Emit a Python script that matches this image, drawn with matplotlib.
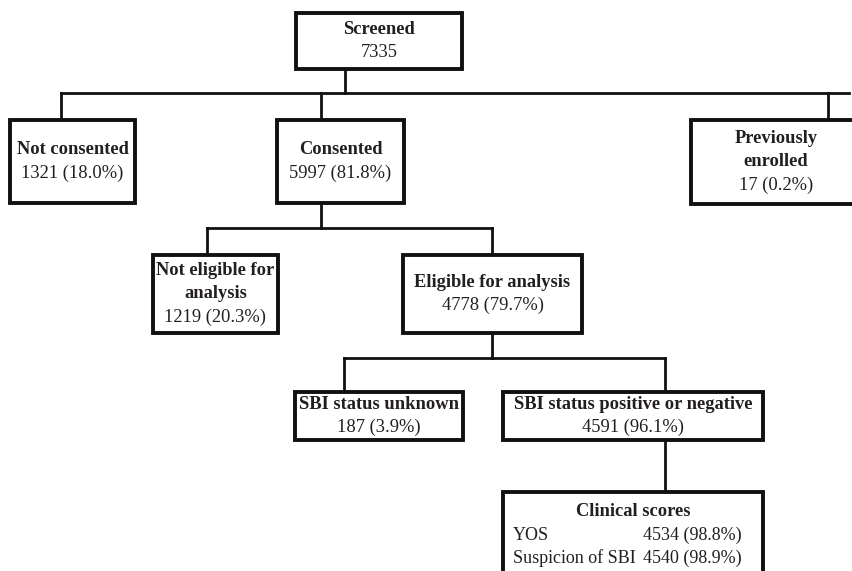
import matplotlib
matplotlib.use("Agg")
import matplotlib.pyplot as plt
from matplotlib.patches import Rectangle

# ---- data ----
node_titles = ["Screened", "Not consented", "Consented", "Previously\nenrolled",
               "Not eligible for\nanalysis", "Eligible for analysis",
               "SBI status unknown", "SBI status positive or negative"]
node_counts = [7335, 1321, 5997, 17, 1219, 4778, 187, 4591]
node_pcts = [None, "18.0%", "81.8%", "0.2%", "20.3%", "79.7%", "3.9%", "96.1%"]

score_title = "Clinical scores"
score_names = ["YOS", "Suspicion of SBI"]
score_counts = [4534, 4540]
score_pcts = ["98.8%", "98.9%"]

# ---- layout (pixel coordinates) ----
boxes = [(296, 13, 462, 69), (10, 120, 135, 203), (277, 120, 404, 203),
         (691, 120, 875, 204), (153, 255, 278, 333), (403, 255, 582, 333),
         (295, 392, 463, 440), (503, 392, 763, 440)]
text_x = [379, 72.5, 340.5, 776, 215.5, 492.5, 379, 633]
clin_box = (503, 492, 763, 620)

connectors = [
    ((345, 345), (69, 93)), ((61, 849), (93, 93)),
    ((61, 61), (93, 120)), ((321, 321), (93, 120)), ((828, 828), (93, 120)),
    ((321, 321), (203, 228)), ((207, 492), (228, 228)),
    ((207, 207), (228, 255)), ((492, 492), (228, 255)),
    ((492, 492), (333, 358)), ((344, 665), (358, 358)),
    ((344, 344), (358, 392)), ((665, 665), (358, 392)),
    ((665, 665), (440, 492)),
]

TXT = "#231f20"
FS = 13.3
LINE = 23.5
plt.rcParams['font.family'] = ['Liberation Serif', 'DejaVu Serif']

fig = plt.figure(figsize=(8.52, 5.71), dpi=100)
ax = fig.add_axes([0, 0, 1, 1])
ax.set_xlim(0, 852)
ax.set_ylim(571, 0)
ax.axis('off')

for (xs, ys) in connectors:
    ax.plot(xs, ys, color="#111111", lw=2.0, solid_capstyle='projecting')

def draw_box(b):
    x0, y0, x1, y1 = b
    ax.add_patch(Rectangle((x0, y0), x1 - x0, y1 - y0, fill=True, fc='white',
                           ec="#111111", lw=2.8, joinstyle='miter', zorder=3))

for b, title, cnt, pct, tx in zip(boxes, node_titles, node_counts, node_pcts, text_x):
    draw_box(b)
    tlines = title.split("\n")
    val = f"{cnt}" if pct is None else f"{cnt} ({pct})"
    n = len(tlines) + 1
    cy = (b[1] + b[3]) / 2
    y0 = cy - (n - 1) * LINE / 2
    for i, t in enumerate(tlines):
        ax.text(tx, y0 + i * LINE, t, ha='center', va='center', fontsize=FS,
                fontweight='bold', color=TXT, zorder=4)
    ax.text(tx, y0 + len(tlines) * LINE, val, ha='center', va='center',
            fontsize=FS, color=TXT, zorder=4)

draw_box(clin_box)
ax.text(633.5, 511, score_title, ha='center', va='center', fontsize=FS,
        fontweight='bold', color=TXT, zorder=4)
for i, (nm, c, p) in enumerate(zip(score_names, score_counts, score_pcts)):
    yy = 535 + i * LINE
    ax.text(513, yy, nm, ha='left', va='center', fontsize=13.0, color=TXT, zorder=4)
    ax.text(742, yy, f"{c} ({p})", ha='right', va='center', fontsize=13.0,
            color=TXT, zorder=4)

fig.savefig("out.png", dpi=100)
